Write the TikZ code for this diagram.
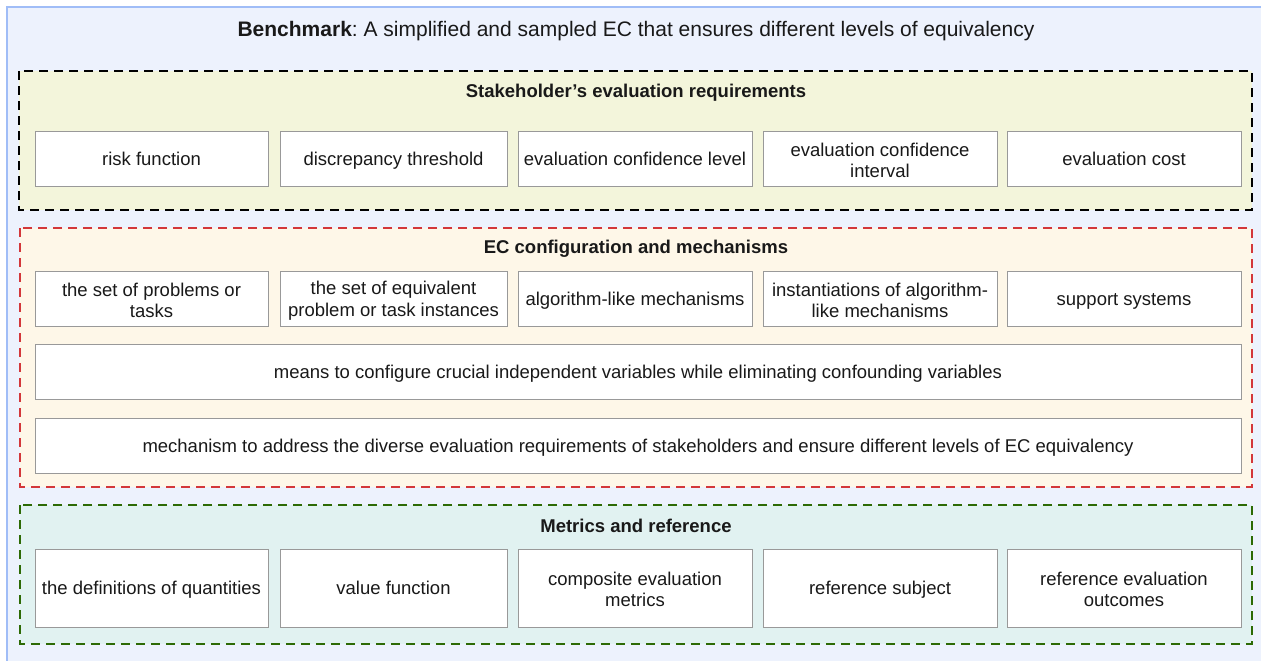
\documentclass[tikz,border=0pt]{standalone}
\usepackage{fontspec}
\setmainfont{Liberation Sans}
\frenchspacing
\newcommand{\topstrut}{\rule{0pt}{18.6pt}}
\newcommand{\botstrut}{\rule[-6pt]{0pt}{6pt}}
\begin{document}
\begin{tikzpicture}[x=1pt,y=-1pt,
  every node/.style={font=\fontsize{18.5}{21.5}\selectfont, text=black!90},
  item/.style={draw=black!40, line width=1pt, fill=white, align=center,
    inner sep=2pt, minimum height=55pt,
    execute at begin node=\topstrut, execute at end node=\botstrut},
  itemtwo/.style={draw=black!40, line width=1pt, fill=white, inner sep=0pt,
    minimum height=55pt,
    label={[align=center, yshift=-1.5pt]center:#1}},
  group/.style={line width=2pt, dash pattern=on 9pt off 6pt},
  heading/.style={font=\fontsize{18.5}{21.5}\selectfont\bfseries}]
\definecolor{outerfill}{HTML}{EDF2FD}
\definecolor{outerline}{HTML}{A0BDF7}
\definecolor{reqfill}{HTML}{F3F5DB}
\definecolor{cfgfill}{HTML}{FEF7E8}
\definecolor{cfgline}{HTML}{D3373A}
\definecolor{metfill}{HTML}{E1F2F1}
\definecolor{metline}{HTML}{2D6A05}
\useasboundingbox (0,0) rectangle (1261,661);
\clip (0,0) rectangle (1261,661);

% benchmark frame
\draw[fill=outerfill, draw=outerline, line width=2pt] (7,7) rectangle (1290,690);
\node[font=\fontsize{21}{24}\selectfont] (title) at (636,31) {\textbf{Benchmark}: A simplified and sampled EC that ensures different levels of equivalency};

% stakeholder requirements
\draw[group, draw=black, fill=reqfill] (19,71) rectangle (1252,210);
\node[heading] (reqtitle) at (636,93) {Stakeholder’s evaluation requirements};
\node[item, minimum width=233pt] (r1) at (151.5,159) {risk function};
\node[item, minimum width=227pt] (r2) at (393.5,159) {discrepancy threshold};
\node[item, minimum width=234pt] (r3) at (635,159) {evaluation confidence level};
\node[itemtwo={evaluation confidence\\interval}, minimum width=234pt] (r4) at (880,159) {};
\node[item, minimum width=234pt] (r5) at (1124,159) {evaluation cost};

% EC configuration
\draw[group, draw=cfgline, fill=cfgfill] (20,228) rectangle (1252,487);
\node[heading] (cfgtitle) at (636,249) {EC configuration and mechanisms};
\node[itemtwo={the set of problems or\\tasks}, minimum width=233pt] (c1) at (151.5,299) {};
\node[itemtwo={the set of equivalent\\problem or task instances}, minimum width=227pt] (c2) at (393.5,299) {};
\node[item, minimum width=234pt] (c3) at (635,299) {algorithm-like mechanisms};
\node[itemtwo={instantiations of algorithm-\\like mechanisms}, minimum width=234pt] (c4) at (880,299) {};
\node[item, minimum width=234pt] (c5) at (1124,299) {support systems};
\node[item, minimum width=1206pt] (c6) at (638,372) {means to configure crucial independent variables while eliminating confounding variables};
\node[item, minimum width=1206pt] (c7) at (638,446) {mechanism to address the diverse evaluation requirements of stakeholders and ensure different levels of EC equivalency};

% metrics and reference
\draw[group, draw=metline, fill=metfill] (20,505) rectangle (1252,644);
\node[heading] (mettitle) at (636,526) {Metrics and reference};
\node[item, minimum width=233pt, minimum height=78pt] (m1) at (151.5,588) {the definitions of quantities};
\node[item, minimum width=227pt, minimum height=78pt] (m2) at (393.5,588) {value function};
\node[itemtwo={composite evaluation\\metrics}, minimum width=234pt, minimum height=78pt] (m3) at (635,588) {};
\node[item, minimum width=234pt, minimum height=78pt] (m4) at (880,588) {reference subject};
\node[itemtwo={reference evaluation\\outcomes}, minimum width=234pt, minimum height=78pt] (m5) at (1124,588) {};
\end{tikzpicture}
\end{document}
